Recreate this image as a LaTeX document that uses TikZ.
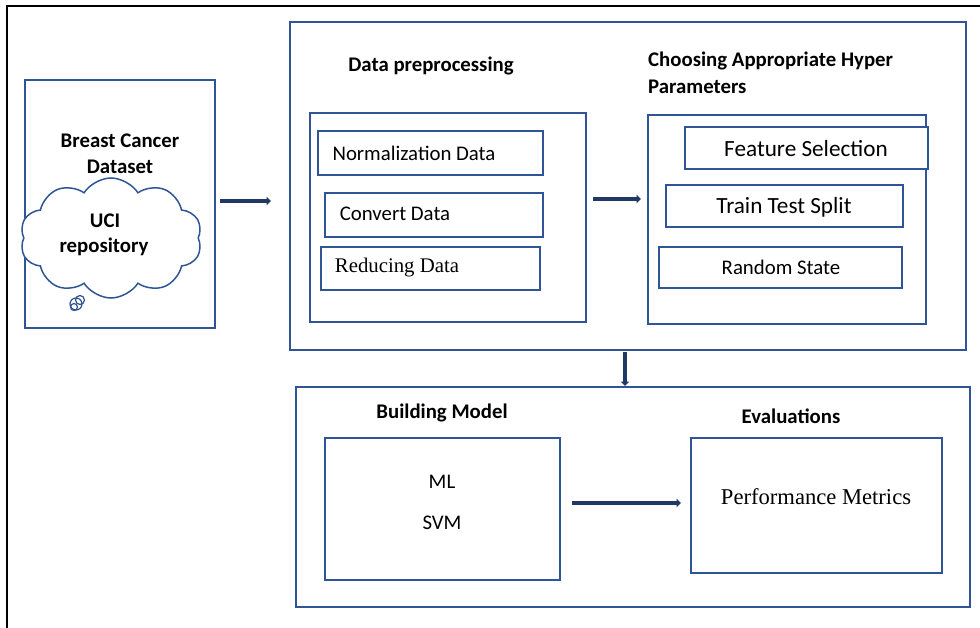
\documentclass[tikz,border=0pt]{standalone}
\usepackage{fontspec}
\setmainfont{Carlito}
\newfontfamily\srf{Liberation Serif}
\usetikzlibrary{shapes.symbols,arrows.meta}
\definecolor{bl}{HTML}{2F5597}
\definecolor{ar}{HTML}{203864}
\tikzset{
  bx/.style={draw=bl, line width=1.8pt, fill=white, inner sep=0pt},
  lbl/.style={font=\fontsize{20.8}{24}\selectfont, inner sep=0pt},
  big/.style={font=\fontsize{23.2}{26}\selectfont, inner sep=0pt},
  hd/.style={font=\fontsize{20.8}{24}\selectfont\bfseries, inner sep=0pt},
  arr/.style={draw=ar, line width=3.5pt, -{Triangle[length=4.5pt,width=8.5pt]}},
}
\begin{document}
\begin{tikzpicture}[x=1pt,y=-1pt]
\useasboundingbox (0,0) rectangle (980,628);
\draw[line width=2.5pt] (7,628) -- (7,6) -- (980,6);

% dataset
\node[bx, minimum width=190pt, minimum height=248pt] (ds) at (120,204) {};
\node[hd] (bc) at (120,141) {Breast Cancer};
\node[hd] (dset) at (120,167) {Dataset};
\node[cloud, draw=bl, line width=1.5pt, fill=white, cloud puffs=10, cloud puff arc=115, aspect=1.6, minimum width=182pt, minimum height=120pt, inner sep=0pt] (cl) at (111,238) {};
\node[hd] (uci) at (105,221) {UCI};
\node[hd] (repo) at (104,247) {repository};
\draw[bl, line width=1.2pt] (76,304) circle (6);
\draw[bl, line width=1.2pt] (80,300) circle (4.5);
\draw[bl, line width=1.2pt] (74,307) circle (3.5);

% preprocessing group
\node[bx, minimum width=676pt, minimum height=328pt] (b1) at (628,186) {};
\node[hd] (dph) at (431,66) {Data preprocessing};
\node[bx, minimum width=276pt, minimum height=209pt] (dp) at (448,217.5) {};
\node[bx, minimum width=225pt, minimum height=44pt] (norm) at (430.5,153) {};
\node[lbl] (normt) at (414,153) {Normalization Data};
\node[bx, minimum width=218pt, minimum height=44pt] (conv) at (434,215) {};
\node[lbl] (convt) at (395,214) {Convert Data};
\node[bx, minimum width=219pt, minimum height=43pt] (red) at (430.5,268.5) {};
\node[lbl, font=\fontsize{20.8}{24}\selectfont\srf] (redt) at (397,268) {Reducing Data};

\node[hd, anchor=west, align=left, font=\fontsize{20.8}{27}\selectfont\bfseries] (hph) at (648,72.5) {Choosing Appropriate Hyper\\Parameters};
\node[bx, minimum width=278pt, minimum height=209pt] (hp) at (787,219.5) {};
\node[bx, minimum width=243pt, minimum height=42pt] (feat) at (806.5,148) {};
\node[big] (featt) at (806,149) {Feature Selection};
\node[bx, minimum width=237pt, minimum height=42pt] (tts) at (784.5,206) {};
\node[big] (ttst) at (784,207) {Train Test Split};
\node[bx, minimum width=243pt, minimum height=41pt] (rs) at (780.5,267.5) {};
\node[lbl] (rst) at (781,267) {Random State};

% lower group
\node[bx, minimum width=674pt, minimum height=220pt] (b2) at (633,497) {};
\node[hd] (bmh) at (442,413) {Building Model};
\node[hd] (evh) at (791,416) {Evaluations};
\node[bx, minimum width=235pt, minimum height=142pt] (bm) at (442.5,509) {};
\node[lbl] (ml) at (442,482) {ML};
\node[lbl] (svm) at (442,523) {SVM};
\node[bx, minimum width=251pt, minimum height=135pt] (pm) at (816.5,505.5) {};
\node[lbl, font=\fontsize{22.6}{26}\selectfont\srf] (pmt) at (816,497) {Performance Metrics};

% arrows
\coordinate (a1s) at (220,201);
\coordinate (a1e) at (271,201);
\draw[arr] (a1s) -- (a1e);
\coordinate (a2s) at (593,199);
\coordinate (a2e) at (641,199);
\draw[arr] (a2s) -- (a2e);
\coordinate (a3s) at (625,352);
\coordinate (a3e) at (625,386);
\draw[arr] (a3s) -- (a3e);
\coordinate (a4s) at (572,503);
\coordinate (a4e) at (681,503);
\draw[arr] (a4s) -- (a4e);
\end{tikzpicture}
\end{document}
